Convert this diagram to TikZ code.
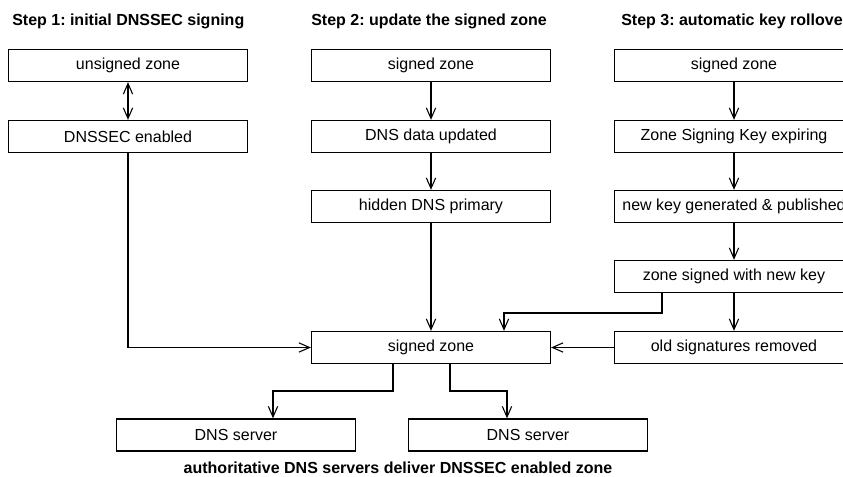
\documentclass[tikz,border=0pt]{standalone}
\usepackage{fontspec}
\setmainfont{Liberation Sans}
\usetikzlibrary{arrows.meta}
\begin{document}
\frenchspacing
\begin{tikzpicture}[x=0.75pt,y=-0.75pt,
  box/.style={draw, line width=0.9pt, rectangle, inner sep=0pt,
    minimum width=179.3pt, minimum height=24.1pt, font=\fontsize{12}{14}\selectfont},
  title/.style={anchor=base west, inner sep=0pt, font=\fontsize{12}{14}\selectfont\bfseries},
  conn/.style={line width=0.9pt, -{Straight Barb[length=8pt,width=7pt,line width=0.8pt]}},
  dconn/.style={line width=0.9pt, {Straight Barb[length=8pt,width=7pt,line width=0.8pt]}-{Straight Barb[length=8pt,width=7pt,line width=0.8pt]}}]
\useasboundingbox (0,0) rectangle (843,477);
% titles
\node[title] (t1) at (12,26) {Step 1: initial DNSSEC signing};
\node[title] (t2) at (311,26) {Step 2: update the signed zone};
\node[title] (t3) at (621,26) {Step 3: automatic key rollover};
% column 1
\node[box] (u1) at (128,65.5) {unsigned zone};
\node[box] (d1) at (128,136.5) {DNSSEC enabled};
% column 2
\node[box] (s2) at (431,65.5) {signed zone};
\node[box] (dd2) at (431,136.5) {DNS data updated};
\node[box] (h2) at (431,206.5) {hidden DNS primary};
% column 3
\node[box] (s3) at (734,65.5) {signed zone};
\node[box] (z3) at (734,136.5) {Zone Signing Key expiring};
\node[box] (n3) at (734,206.5) {new key generated \& published};
\node[box] (w3) at (734,276.5) {zone signed with new key};
\node[box] (o3) at (734,347.5) {old signatures removed};
% central
\node[box] (sz) at (431,347.5) {signed zone};
\node[box] (ds1) at (236,435) {DNS server};
\node[box] (ds2) at (528,435) {DNS server};
\node[anchor=base, inner sep=0pt, font=\fontsize{12}{14}\selectfont\bfseries] (cap) at (398,473) {authoritative DNS servers deliver DNSSEC enabled zone};
% coordinates
\coordinate (wa) at (662,293);
\coordinate (wb) at (504,313);
\coordinate (sa) at (393,364);
\coordinate (sb) at (450,364);
\coordinate (la) at (273,391);
\coordinate (ra) at (507,391);
% connectors
\draw[dconn] (u1) -- (d1);
\draw[conn] (d1) |- (sz);
\draw[conn] (s2) -- (dd2);
\draw[conn] (dd2) -- (h2);
\draw[conn] (h2) -- (sz);
\draw[conn] (s3) -- (z3);
\draw[conn] (z3) -- (n3);
\draw[conn] (n3) -- (w3);
\draw[conn] (w3) -- (o3);
\draw[conn] (wa) |- (wb) -- (wb |- sz.north);
\draw[conn] (o3) -- (sz);
\draw[conn] (sa) |- (la) -- (la |- ds1.north);
\draw[conn] (sb) |- (ra) -- (ra |- ds2.north);
\end{tikzpicture}
\end{document}
